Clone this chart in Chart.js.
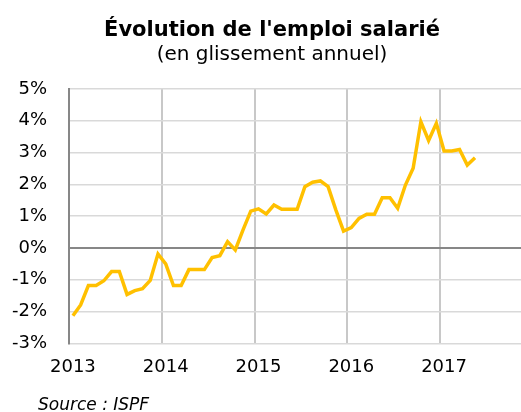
<!DOCTYPE html>
<html lang="fr">
<head>
<meta charset="utf-8">
<title>Évolution de l'emploi salarié</title>
<script src="https://cdn.jsdelivr.net/npm/chart.js@4.4.1/dist/chart.umd.min.js"></script>
<style>
    html, body {
        margin: 0;
        padding: 0;
        width: 521px;
        height: 412px;
        overflow: hidden;
        background: #fff;
        font-family: "DejaVu Sans", Verdana, sans-serif;
        color: #000;
    }
    .title, .subtitle, .source {
        position: absolute;
        white-space: nowrap;
        line-height: normal;
    }
    .title {
        top: 17px;
        left: 272px;
        transform: translateX(-50%);
        font-size: 21px;
        font-weight: bold;
    }
    .subtitle {
        top: 41px;
        left: 272px;
        transform: translateX(-50%);
        font-size: 20px;
    }
    .source {
        top: 394px;
        left: 38px;
        font-size: 17px;
        font-style: italic;
    }
    #chart-wrap {
        position: absolute;
        top: 0;
        left: 0;
    }
</style>
</head>
<body>
<div id="chart-wrap"><canvas id="emploiChart" width="534" height="412"></canvas></div>
<div class="title">Évolution de l'emploi salarié</div>
<div class="subtitle">(en glissement annuel)</div>
<div class="source">Source : ISPF</div>

<script>
// years shown on the axis, one category per month
const years = ['2013', '2014', '2015', '2016', '2017'];
const months = ['01', '02', '03', '04', '05', '06', '07', '08', '09', '10', '11', '12'];

// annual change of salaried employment, % (Jan 2013 - May 2017)
const emploi2013 = [-2.13, -1.79, -1.18, -1.18, -1.03, -0.74, -0.74, -1.46, -1.34, -1.28, -1.02, -0.19];
const emploi2014 = [-0.50, -1.18, -1.18, -0.68, -0.68, -0.68, -0.30, -0.24, 0.20, -0.06, 0.57, 1.16];
const emploi2015 = [1.23, 1.07, 1.35, 1.22, 1.22, 1.22, 1.93, 2.07, 2.11, 1.93, 1.20, 0.53];
const emploi2016 = [0.64, 0.93, 1.06, 1.06, 1.58, 1.58, 1.25, 1.98, 2.51, 3.97, 3.38, 3.92];
const emploi2017 = [3.05, 3.05, 3.10, 2.61, 2.84];

const yTicks = [-3, -2, -1, 0, 1, 2, 3, 4, 5];

const labels = [];
years.forEach(y => months.forEach(m => labels.push(y + '-' + m)));

const values = [].concat(emploi2013, emploi2014, emploi2015, emploi2016, emploi2017);

const ctx = document.getElementById('emploiChart').getContext('2d');

const emploiChart = new Chart(ctx, {
    type: 'line',
    data: {
        labels: labels,
        datasets: [{
            label: 'Emploi salarié',
            data: values,
            borderColor: '#FFC000',
            borderWidth: 3.5,
            pointRadius: 0,
            pointHoverRadius: 0,
            tension: 0,
            fill: false
        }]
    },
    options: {
        responsive: false,
        animation: false,
        devicePixelRatio: 1,
        layout: {
            padding: { top: 89, right: 1, bottom: 33, left: 11 }
        },
        plugins: {
            legend: { display: false },
            title: { display: false },
            tooltip: { enabled: false }
        },
        scales: {
            x: {
                type: 'category',
                offset: true,
                border: { display: false },
                grid: {
                    offset: true,
                    drawTicks: true,
                    tickLength: 12,
                    tickColor: 'rgba(0,0,0,0)',
                    lineWidth: 2,
                    color: function (c) {
                        return c.index % 12 === 0 && c.index < labels.length ? '#c8c8c8' : 'rgba(0,0,0,0)';
                    }
                },
                ticks: {
                    autoSkip: false,
                    maxRotation: 0,
                    padding: 1,
                    color: '#000',
                    font: { family: '"DejaVu Sans", Verdana, sans-serif', size: 18 },
                    callback: function (value, index) {
                        return index % 12 === 0 ? this.getLabelForValue(value).slice(0, 4) : '';
                    }
                }
            },
            y: {
                min: yTicks[0],
                max: yTicks[yTicks.length - 1],
                border: { display: true, color: '#878787', width: 2 },
                grid: {
                    drawTicks: true,
                    tickLength: 21,
                    tickColor: 'rgba(0,0,0,0)',
                    lineWidth: function (c) {
                        return c.tick && c.tick.value === 0 ? 2 : 1.5;
                    },
                    color: function (c) {
                        return c.tick && c.tick.value === 0 ? '#878787' : '#d9d9d9';
                    }
                },
                afterBuildTicks: function (axis) {
                    axis.ticks = yTicks.map(v => ({ value: v }));
                },
                ticks: {
                    padding: 1,
                    color: '#000',
                    font: { family: '"DejaVu Sans", Verdana, sans-serif', size: 18 },
                    callback: function (value) {
                        return value + '%';
                    }
                }
            }
        }
    }
});
</script>
</body>
</html>
